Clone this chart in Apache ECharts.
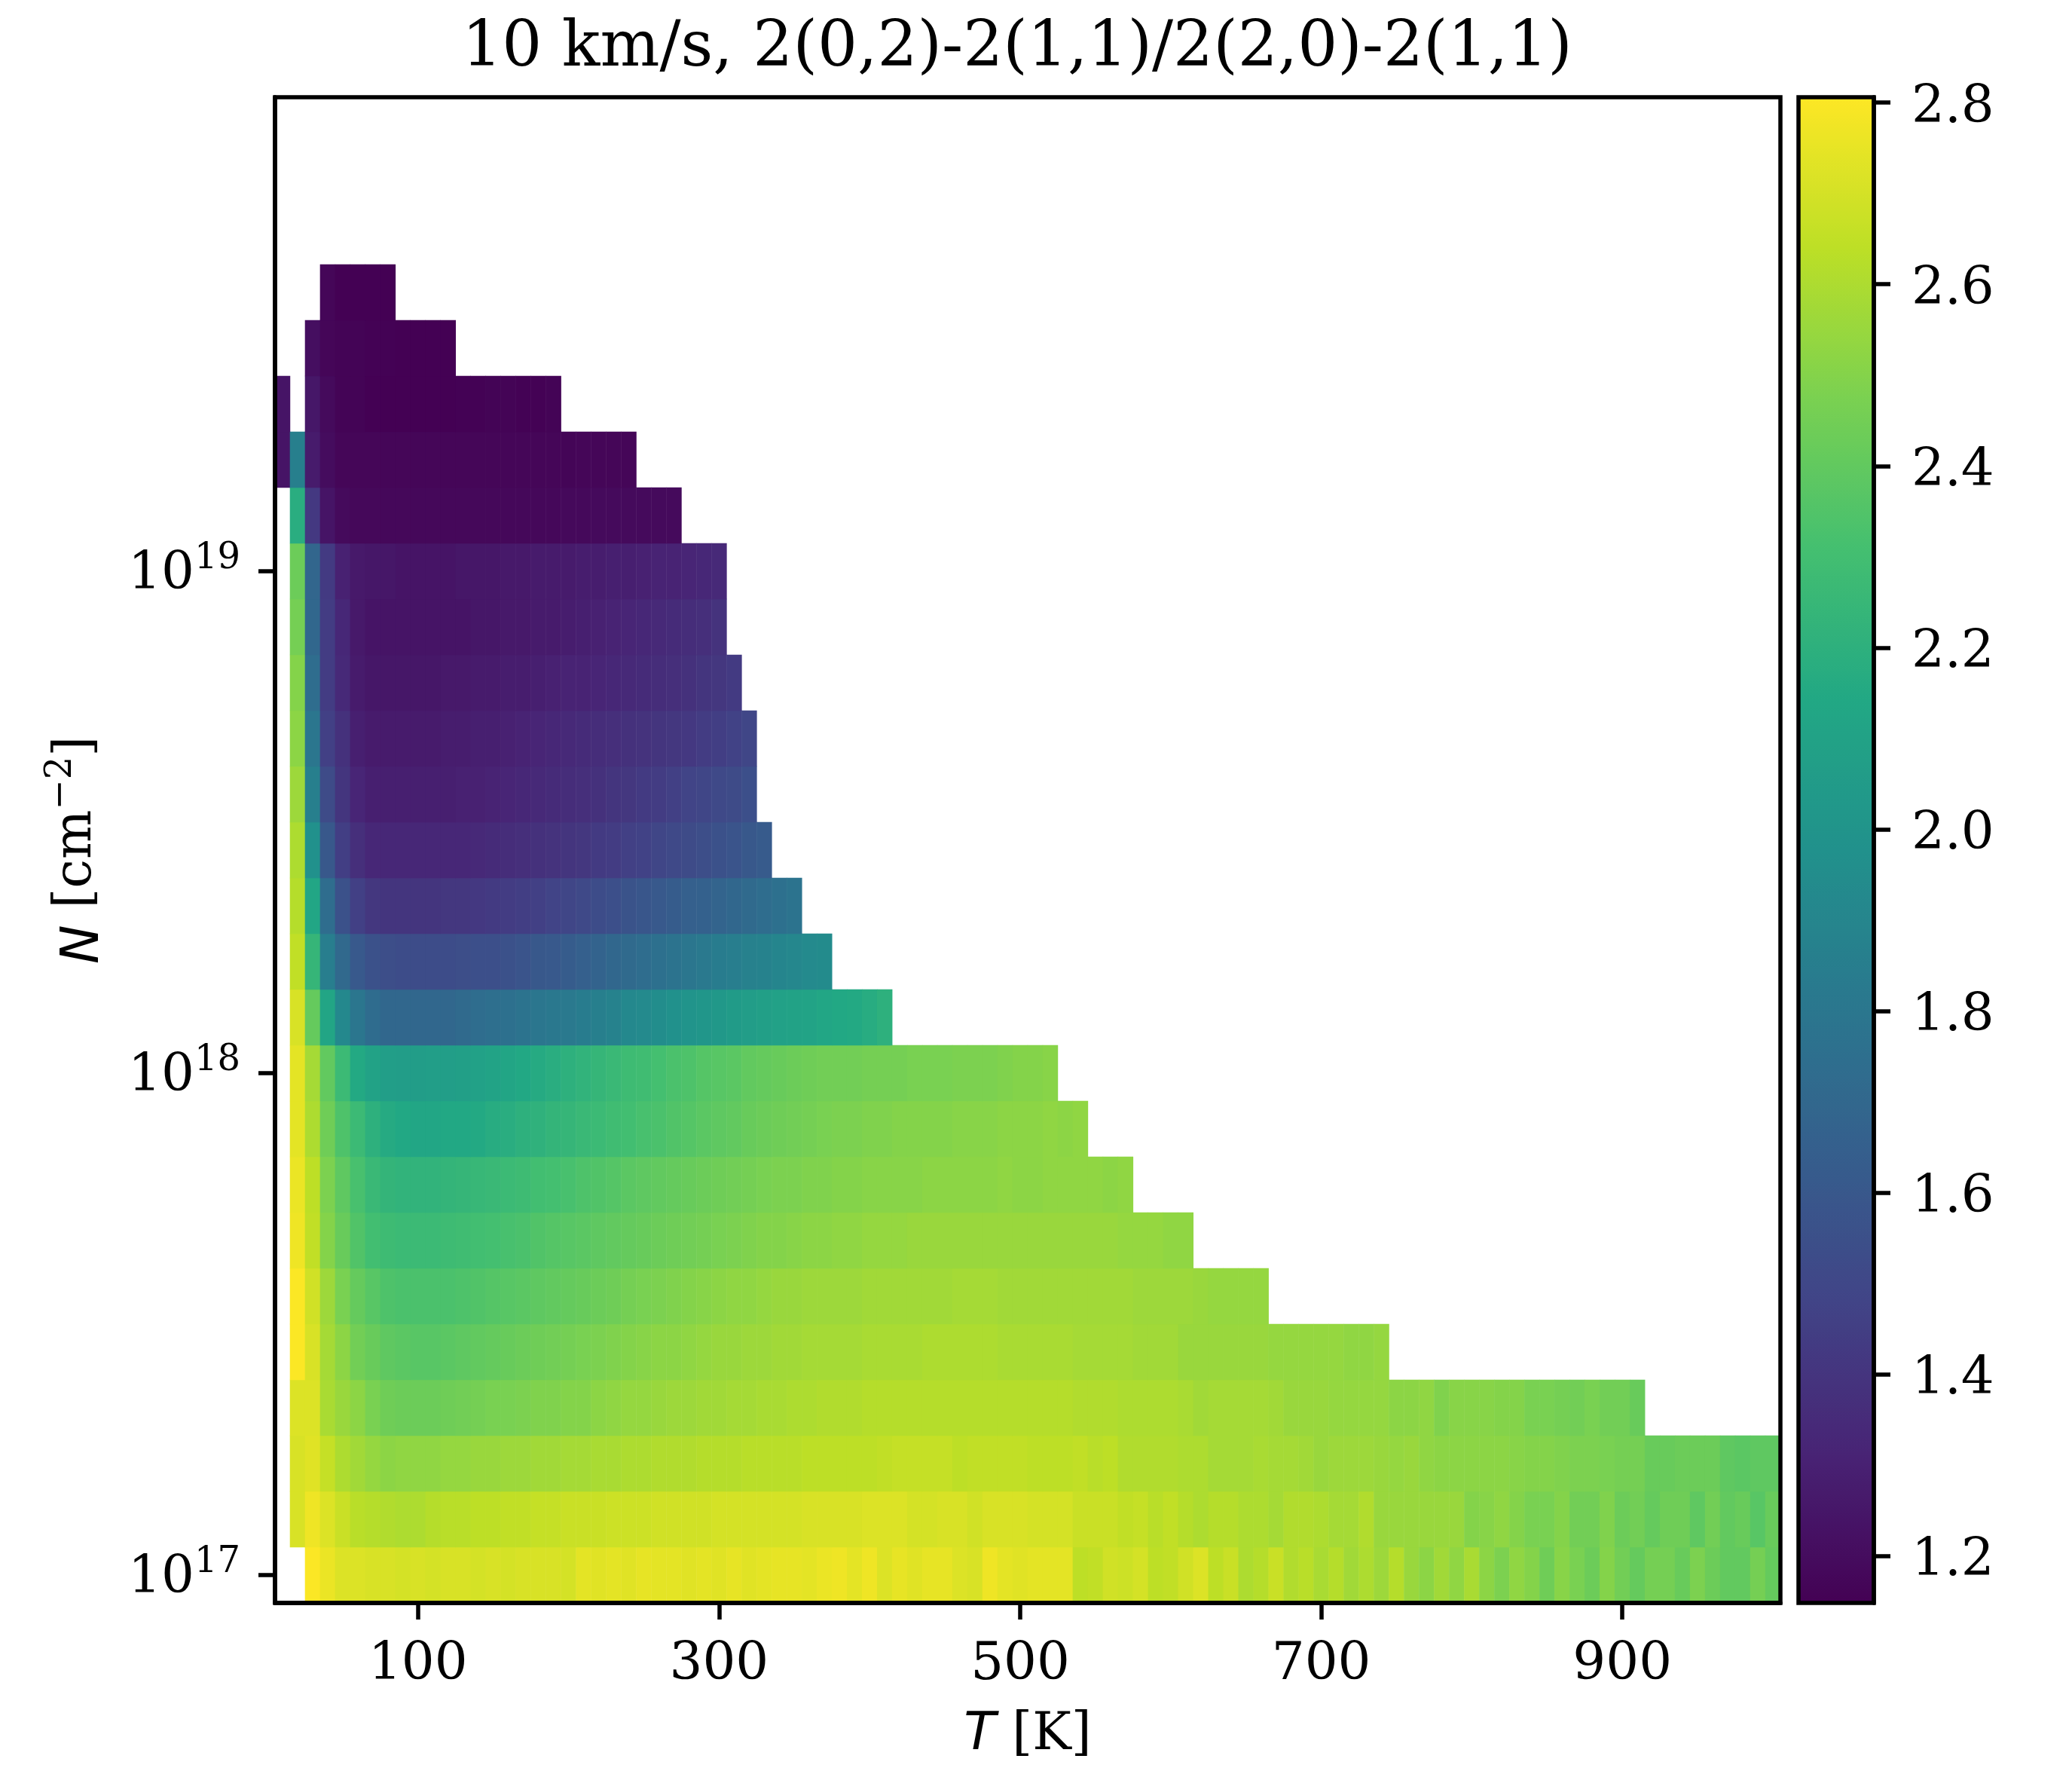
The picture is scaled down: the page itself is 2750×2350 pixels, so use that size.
<!DOCTYPE html>
<html>
<head>
<meta charset="utf-8">
<title>10 km/s ratio</title>
<script src="https://cdn.jsdelivr.net/npm/echarts@6/dist/echarts.min.js"></script>
<style>
  html, body { margin: 0; padding: 0; background: #fff; }
  #chart { width: 2750px; height: 2350px; }
</style>
</head>
<body>
<div id="chart"></div>
<script>
const n = null

// temperature bins, one per column
const temps = [10,20,30,40,50,60,70,80,90,100,110,120,130,140,150,160,170,180,190,200,
  210,220,230,240,250,260,270,280,290,300,310,320,330,340,350,360,370,380,390,400,
  410,420,430,440,450,460,470,480,490,500,510,520,530,540,550,560,570,580,590,600,
  610,620,630,640,650,660,670,680,690,700,710,720,730,740,750,760,770,780,790,800,
  810,820,830,840,850,860,870,880,890,900,910,920,930,940,950,960,970,980,990,1000]

// column density bins as log10(N), bottom row first
const logN = ['17.00','17.11','17.22','17.33','17.44','17.56','17.67','17.78','17.89',
  '18.00','18.11','18.22','18.33','18.44','18.56','18.67','18.78','18.89',
  '19.00','19.11','19.22','19.33','19.44','19.56','19.67','19.78','19.89']

const xTicks = [100, 300, 500, 700, 900]
const yTicks = { '17.00': '17', '18.00': '18', '19.00': '19' }
const barTicks = [1.2, 1.4, 1.6, 1.8, 2.0, 2.2, 2.4, 2.6, 2.8]

const row00 = [n,n,2.80,2.76,2.72,2.72,2.71,2.71,2.70,2.71,2.70,2.71,2.71,2.70,2.71,2.70,2.71,2.71,2.71,2.70,
  2.74,2.73,2.74,2.73,2.75,2.74,2.74,2.73,2.74,2.73,2.75,2.73,2.74,2.75,2.75,2.74,2.76,2.77,2.74,2.77,
  2.72,2.75,2.73,2.75,2.75,2.72,2.71,2.77,2.74,2.73,2.74,2.74,2.74,2.64,2.65,2.69,2.68,2.70,2.64,2.65,
  2.69,2.72,2.64,2.67,2.60,2.62,2.67,2.61,2.63,2.59,2.62,2.57,2.60,2.56,2.62,2.55,2.52,2.57,2.53,2.59,
  2.52,2.48,2.53,2.50,2.44,2.51,2.47,2.43,2.50,2.45,2.41,2.46,2.46,2.42,2.48,2.43,2.40,2.40,2.46,2.41]
const row01 = [n,2.71,2.77,2.72,2.67,2.63,2.62,2.61,2.60,2.60,2.62,2.63,2.63,2.64,2.64,2.65,2.65,2.66,2.66,2.67,
  2.67,2.67,2.68,2.68,2.68,2.69,2.69,2.69,2.69,2.70,2.70,2.70,2.70,2.70,2.70,2.71,2.71,2.71,2.71,2.72,
  2.72,2.72,2.70,2.70,2.71,2.71,2.69,2.71,2.71,2.71,2.70,2.70,2.70,2.67,2.67,2.67,2.65,2.66,2.63,2.65,
  2.62,2.60,2.62,2.62,2.60,2.60,2.58,2.61,2.61,2.60,2.58,2.58,2.61,2.55,2.55,2.55,2.55,2.55,2.55,2.50,
  2.51,2.53,2.50,2.47,2.47,2.50,2.45,2.45,2.49,2.43,2.45,2.41,2.44,2.44,2.39,2.45,2.40,2.42,2.37,2.42]
const row02 = [n,2.71,2.73,2.66,2.60,2.57,2.54,2.52,2.53,2.53,2.53,2.54,2.54,2.55,2.55,2.56,2.56,2.57,2.57,2.58,
  2.58,2.59,2.59,2.60,2.60,2.61,2.61,2.61,2.62,2.62,2.62,2.63,2.63,2.63,2.63,2.64,2.64,2.64,2.64,2.64,
  2.65,2.66,2.66,2.66,2.66,2.64,2.65,2.65,2.65,2.65,2.64,2.64,2.64,2.65,2.63,2.64,2.61,2.61,2.61,2.61,
  2.60,2.60,2.58,2.58,2.58,2.59,2.58,2.58,2.57,2.55,2.56,2.56,2.56,2.55,2.54,2.55,2.53,2.52,2.52,2.52,
  2.52,2.52,2.51,2.50,2.50,2.49,2.48,2.48,2.47,2.46,2.46,2.42,2.42,2.43,2.43,2.43,2.39,2.38,2.39,2.39]
const row03 = [n,2.72,2.72,2.59,2.55,2.52,2.47,2.44,2.43,2.43,2.43,2.44,2.45,2.46,2.47,2.47,2.48,2.49,2.49,2.50,
  2.50,2.52,2.53,2.54,2.54,2.55,2.56,2.56,2.57,2.57,2.58,2.58,2.59,2.59,2.60,2.60,2.61,2.61,2.61,2.62,
  2.62,2.62,2.62,2.62,2.62,2.62,2.62,2.62,2.62,2.62,2.62,2.62,2.62,2.61,2.61,2.61,2.60,2.60,2.60,2.60,
  2.59,2.57,2.58,2.58,2.58,2.58,2.57,2.55,2.55,2.55,2.54,2.54,2.54,2.54,2.52,2.52,2.53,2.49,2.51,2.51,
  2.51,2.50,2.50,2.47,2.47,2.46,2.45,2.47,2.45,2.45,2.42]
const row04 = [n,2.80,2.71,2.58,2.52,2.45,2.42,2.39,2.38,2.37,2.37,2.38,2.39,2.40,2.41,2.42,2.43,2.44,2.45,2.46,
  2.47,2.48,2.49,2.50,2.51,2.52,2.52,2.53,2.54,2.55,2.55,2.56,2.56,2.57,2.57,2.58,2.58,2.58,2.58,2.59,
  2.59,2.59,2.59,2.60,2.60,2.60,2.60,2.60,2.59,2.59,2.59,2.59,2.59,2.58,2.58,2.58,2.58,2.57,2.57,2.57,
  2.55,2.55,2.55,2.55,2.55,2.55,2.54,2.54,2.54,2.54,2.54,2.53,2.53,2.54]
const row05 = [n,2.80,2.69,2.56,2.47,2.41,2.37,2.34,2.33,2.33,2.33,2.33,2.34,2.35,2.36,2.37,2.38,2.39,2.40,2.41,
  2.42,2.43,2.44,2.46,2.47,2.48,2.49,2.50,2.51,2.52,2.53,2.53,2.54,2.55,2.55,2.56,2.56,2.56,2.56,2.57,
  2.57,2.57,2.57,2.57,2.57,2.58,2.58,2.58,2.57,2.57,2.57,2.57,2.57,2.57,2.57,2.57,2.57,2.56,2.56,2.56,
  2.56,2.55,2.54,2.54,2.54,2.54]
const row06 = [n,2.77,2.65,2.50,2.42,2.35,2.30,2.28,2.27,2.27,2.27,2.28,2.29,2.30,2.31,2.32,2.33,2.35,2.36,2.37,
  2.38,2.39,2.40,2.41,2.42,2.43,2.44,2.45,2.46,2.47,2.48,2.49,2.50,2.50,2.51,2.52,2.52,2.53,2.53,2.54,
  2.54,2.54,2.55,2.55,2.55,2.55,2.55,2.55,2.55,2.55,2.55,2.55,2.55,2.55,2.55,2.55,2.54,2.54,2.54,2.53,2.53]
const row07 = [n,2.76,2.64,2.48,2.39,2.32,2.26,2.23,2.22,2.22,2.22,2.23,2.24,2.25,2.26,2.27,2.28,2.30,2.31,2.32,
  2.34,2.35,2.36,2.38,2.39,2.40,2.41,2.42,2.43,2.44,2.45,2.46,2.47,2.48,2.48,2.49,2.49,2.50,2.50,2.51,
  2.51,2.51,2.51,2.52,2.52,2.52,2.52,2.52,2.53,2.52,2.52,2.53,2.53,2.53,2.53,2.52,2.53]
const row08 = [n,2.74,2.60,2.44,2.34,2.27,2.20,2.16,2.14,2.13,2.13,2.14,2.14,2.15,2.17,2.18,2.20,2.21,2.23,2.24,
  2.26,2.27,2.29,2.30,2.32,2.33,2.35,2.36,2.38,2.39,2.40,2.42,2.43,2.44,2.45,2.46,2.47,2.48,2.48,2.49,
  2.49,2.50,2.50,2.50,2.50,2.51,2.51,2.51,2.52,2.52,2.52,2.53,2.52,2.53]
const row09 = [n,2.74,2.58,2.40,2.27,2.15,2.10,2.07,2.06,2.06,2.07,2.07,2.08,2.09,2.11,2.12,2.14,2.16,2.18,2.20,
  2.22,2.24,2.26,2.28,2.29,2.31,2.33,2.34,2.36,2.37,2.38,2.40,2.41,2.42,2.43,2.44,2.45,2.45,2.45,2.46,
  2.46,2.46,2.47,2.47,2.47,2.48,2.48,2.48,2.49,2.50,2.50,2.51]
const row10 = [n,2.71,2.41,2.12,1.92,1.80,1.73,1.70,1.70,1.70,1.70,1.70,1.72,1.74,1.75,1.76,1.78,1.80,1.81,1.82,
  1.84,1.86,1.88,1.92,1.93,1.95,1.98,2.00,2.01,2.03,2.05,2.06,2.08,2.09,2.10,2.11,2.13,2.14,2.15,2.17,2.20]
const row11 = [n,2.65,2.24,1.85,1.71,1.61,1.56,1.54,1.53,1.53,1.53,1.53,1.54,1.55,1.55,1.56,1.58,1.60,1.61,1.63,
  1.65,1.67,1.70,1.72,1.74,1.76,1.78,1.80,1.82,1.84,1.85,1.87,1.88,1.90,1.91,1.93,1.94]
const row12 = [n,2.62,2.13,1.74,1.56,1.46,1.41,1.40,1.40,1.40,1.40,1.41,1.41,1.42,1.43,1.44,1.45,1.46,1.48,1.49,
  1.51,1.53,1.55,1.57,1.59,1.61,1.63,1.65,1.66,1.68,1.70,1.72,1.74,1.76,1.78]
const row13 = [n,2.60,1.98,1.60,1.45,1.37,1.33,1.33,1.33,1.33,1.33,1.33,1.33,1.34,1.35,1.36,1.37,1.38,1.39,1.40,
  1.41,1.43,1.44,1.46,1.47,1.49,1.51,1.52,1.54,1.56,1.58,1.60,1.62]
const row14 = [n,2.56,1.86,1.52,1.40,1.32,1.29,1.29,1.29,1.29,1.29,1.29,1.30,1.30,1.31,1.32,1.33,1.34,1.35,1.36,
  1.37,1.38,1.40,1.41,1.43,1.44,1.46,1.48,1.49,1.51,1.52,1.55]
const row15 = [n,2.52,1.80,1.46,1.38,1.29,1.27,1.27,1.27,1.27,1.27,1.28,1.28,1.29,1.29,1.30,1.31,1.32,1.33,1.34,
  1.35,1.36,1.37,1.38,1.39,1.40,1.41,1.42,1.44,1.45,1.47,1.49]
const row16 = [n,2.50,1.74,1.44,1.34,1.27,1.25,1.25,1.25,1.25,1.25,1.26,1.26,1.27,1.27,1.28,1.28,1.29,1.30,1.31,
  1.31,1.32,1.33,1.34,1.35,1.36,1.37,1.38,1.40,1.41,1.43]
const row17 = [n,2.46,1.70,1.44,1.33,1.26,1.24,1.24,1.24,1.24,1.24,1.24,1.24,1.25,1.25,1.26,1.26,1.27,1.27,1.28,
  1.29,1.30,1.31,1.32,1.33,1.34,1.35,1.36,1.37,1.39]
const row18 = [n,2.43,1.69,1.43,1.30,1.26,1.25,1.25,1.24,1.24,1.24,1.24,1.25,1.25,1.25,1.26,1.26,1.27,1.27,1.27,
  1.28,1.28,1.29,1.29,1.30,1.31,1.31,1.32,1.33,1.34]
const row19 = [n,2.18,1.42,1.24,1.19,1.18,1.18,1.18,1.18,1.18,1.18,1.18,1.18,1.18,1.18,1.18,1.18,1.18,1.18,1.185,
  1.185,1.19,1.19,1.19,1.19,1.19,1.19]
const row20 = [1.24,1.86,1.27,1.20,1.17,1.17,1.17,1.17,1.17,1.17,1.17,1.17,1.17,1.17,1.17,1.17,1.17,1.17,1.17,1.165,
  1.17,1.17,1.17,1.17]
const row21 = [1.24,n,1.25,1.19,1.16,1.16,1.15,1.15,1.15,1.15,1.15,1.15,1.155,1.155,1.16,1.16,1.155,1.155,1.16]
const row22 = [n,n,1.21,1.17,1.16,1.16,1.155,1.155,1.15,1.15,1.15,1.15]
const row23 = [n,n,n,1.17,1.15,1.15,1.15,1.15]

const rows = [row00, row01, row02, row03, row04, row05, row06, row07, row08, row09, row10, row11,
  row12, row13, row14, row15, row16, row17, row18, row19, row20, row21, row22, row23]

const viridis = ['#440154', '#482475', '#414487', '#355f8d', '#2a788e', '#21918c',
  '#22a884', '#44bf70', '#7ad151', '#bddf26', '#fde725']

const cells = []
rows.forEach((row, y) => {
  row.forEach((v, x) => {
    if (v !== null) {
      cells.push([x, y, v])
    }
  })
})

const font = 'DejaVu Serif'
const mathFont = 'DejaVu Sans'
const black = '#000'
const tickStyle = { show: true, inside: false, length: 22, lineStyle: { color: black, width: 5.5 } }
const lineStyle = { show: true, onZero: false, lineStyle: { color: black, width: 5.5 } }

const chart = echarts.init(document.getElementById('chart'), null, { renderer: 'canvas' })
chart.setOption({
  animation: false,
  backgroundColor: '#fff',
  textStyle: { fontFamily: font, color: black },
  title: {
    text: '10 km/s, 2(0,2)-2(1,1)/2(2,0)-2(1,1)',
    left: 1345,
    top: 19,
    textAlign: 'center',
    textStyle: { fontFamily: font, fontSize: 83.4, fontWeight: 'normal', color: black }
  },
  grid: [
    { left: 365, top: 129, width: 1998, height: 1998, show: true, z: 5,
      backgroundColor: 'transparent', borderColor: black, borderWidth: 5.5 },
    { left: 2387, top: 129, width: 100, height: 1998, show: true, z: 6,
      backgroundColor: 'transparent', borderColor: black, borderWidth: 5.5 }
  ],
  xAxis: [
    // bins for the heatmap
    { type: 'category', gridIndex: 0, data: temps, show: false },
    // the axis that is read: T in K, bins span 5 to 1005
    {
      type: 'value',
      gridIndex: 0,
      position: 'bottom',
      min: 5,
      max: 1005,
      z: 6,
      axisLine: lineStyle,
      axisTick: { ...tickStyle, customValues: xTicks },
      axisLabel: {
        customValues: xTicks,
        fontFamily: font, fontSize: 69, color: black, margin: 49
      },
      name: '{i|T} [K]',
      nameLocation: 'middle',
      nameGap: 142,
      nameTextStyle: {
        fontFamily: font, fontSize: 69, color: black,
        rich: { i: { fontFamily: mathFont, fontStyle: 'italic', fontSize: 69, color: black } }
      },
      splitLine: { show: false }
    },
    { type: 'value', gridIndex: 1, show: false, min: 0, max: 1 }
  ],
  yAxis: [
    {
      type: 'category',
      gridIndex: 0,
      position: 'left',
      data: logN,
      boundaryGap: true,
      z: 6,
      axisLine: lineStyle,
      axisTick: { ...tickStyle, alignWithLabel: true, interval: (i, v) => v in yTicks },
      axisLabel: {
        interval: (i, v) => v in yTicks,
        formatter: v => `{b|10}{s|${yTicks[v]}}`,
        margin: 46,
        rich: {
          b: { fontFamily: font, fontSize: 69, color: black, verticalAlign: 'bottom', lineHeight: 80 },
          s: { fontFamily: font, fontSize: 48, color: black, verticalAlign: 'top', lineHeight: 80 }
        }
      },
      name: '{i|N} [cm{s|\u22122}]',
      nameLocation: 'middle',
      nameGap: 218,
      nameTextStyle: {
        fontFamily: font, fontSize: 69, color: black,
        rich: {
          i: { fontFamily: mathFont, fontStyle: 'italic', fontSize: 69, color: black, verticalAlign: 'bottom', lineHeight: 89 },
          s: { fontFamily: font, fontSize: 48, color: black, verticalAlign: 'top', lineHeight: 89 }
        }
      },
      splitLine: { show: false },
      splitArea: { show: false }
    },
    {
      type: 'value',
      gridIndex: 1,
      position: 'right',
      min: 1.148,
      max: 2.806,
      z: 6,
      axisLine: lineStyle,
      axisTick: { ...tickStyle, customValues: barTicks },
      axisLabel: {
        customValues: barTicks,
        formatter: v => `{v|${v.toFixed(1)}}`,
        margin: 50,
        rich: { v: { fontFamily: font, fontSize: 69, color: black, padding: [16, 0, 0, 0] } }
      },
      splitLine: { show: false }
    }
  ],
  visualMap: {
    type: 'continuous',
    seriesIndex: 0,
    min: 1.148,
    max: 2.806,
    left: 2387,
    top: 129,
    padding: 0,
    itemWidth: 100,
    itemHeight: 1998,
    calculable: false,
    hoverLink: false,
    text: null,
    showLabel: false,
    inRange: { color: viridis }
  },
  series: [
    {
      type: 'heatmap',
      xAxisIndex: 0,
      yAxisIndex: 0,
      data: cells,
      z: 2,
      itemStyle: { borderWidth: 0 },
      emphasis: { disabled: true },
      progressive: 0
    }
  ]
})
</script>
</body>
</html>
